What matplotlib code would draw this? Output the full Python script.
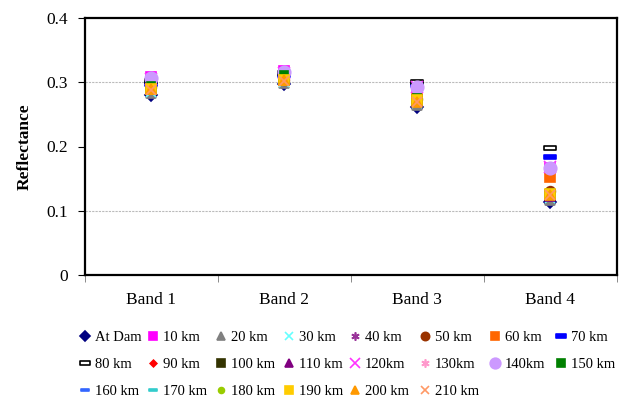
import matplotlib.pyplot as plt
from matplotlib.path import Path

plt.rcParams['font.family'] = ['Liberation Serif', 'DejaVu Serif']

bands = ['Band 1', 'Band 2', 'Band 3', 'Band 4']
yticks = [0, 0.1, 0.2, 0.3, 0.4]
ytick_labels = ['0', '0.1', '0.2', '0.3', '0.4']

names = ['At Dam', '10 km', '20 km', '30 km', '40 km', '50 km', '60 km', '70 km',
         '80 km', '90 km', '100 km', '110 km', '120km', '130km', '140km', '150 km',
         '160 km', '170 km', '180 km', '190 km', '200 km', '210 km']

# reflectance per station, one value per band
at_dam = [0.280, 0.297, 0.262, 0.113]
km10 = [0.308, 0.318, 0.294, 0.166]
km20 = [0.283, 0.299, 0.265, 0.117]
km30 = [0.285, 0.300, 0.268, 0.120]
km40 = [0.300, 0.310, 0.285, 0.160]
km50 = [0.293, 0.304, 0.274, 0.130]
km60 = [0.292, 0.305, 0.275, 0.152]
km70 = [0.298, 0.312, 0.296, 0.184]
km80 = [0.302, 0.314, 0.301, 0.197]
km90 = [0.291, 0.303, 0.273, 0.125]
km100 = [0.290, 0.304, 0.272, 0.124]
km110 = [0.289, 0.303, 0.271, 0.123]
km120 = [0.305, 0.315, 0.292, 0.168]
km130 = [0.304, 0.314, 0.291, 0.165]
km140 = [0.306, 0.316, 0.292, 0.167]
km150 = [0.294, 0.311, 0.276, 0.128]
km160 = [0.290, 0.305, 0.272, 0.126]
km170 = [0.286, 0.301, 0.268, 0.121]
km180 = [0.288, 0.303, 0.270, 0.124]
km190 = [0.290, 0.304, 0.272, 0.126]
km200 = [0.289, 0.303, 0.270, 0.125]
km210 = [0.288, 0.302, 0.270, 0.124]

series = [at_dam, km10, km20, km30, km40, km50, km60, km70, km80, km90, km100,
          km110, km120, km130, km140, km150, km160, km170, km180, km190, km200, km210]

bar = Path([(-1, -0.35), (1, -0.35), (1, 0.35), (-1, 0.35), (-1, -0.35)],
           [Path.MOVETO, Path.LINETO, Path.LINETO, Path.LINETO, Path.CLOSEPOLY])
asterisk = (6, 2, 0)

# (marker, face colour, edge colour, size)
styles = [
    ('D', '#000080', '#000080', 6),
    ('s', '#FF00FF', '#FF00FF', 7),
    ('^', '#808080', '#808080', 7),
    ('x', '#66FFFF', '#66FFFF', 7),
    (asterisk, '#993399', '#993399', 7),
    ('o', '#993300', '#993300', 7),
    ('s', '#FF6600', '#FF6600', 7),
    (bar, '#0000FF', '#0000FF', 8),
    (bar, 'white', 'black', 9),
    ('D', '#FF0000', '#FF0000', 4),
    ('s', '#333300', '#333300', 7),
    ('^', '#800080', '#800080', 7),
    ('x', '#FF33FF', '#FF33FF', 8),
    (asterisk, '#FF99CC', '#FF99CC', 7),
    ('o', '#CC99FF', '#CC99FF', 9),
    ('s', '#008000', '#008000', 6),
    (bar, '#3366FF', '#3366FF', 6),
    (bar, '#33CCCC', '#33CCCC', 6),
    ('o', '#99CC00', '#99CC00', 5),
    ('s', '#FFCC00', '#FFCC00', 7),
    ('^', '#FF9900', '#FF9900', 7),
    ('x', '#FF9966', '#FF9966', 7),
]

fig = plt.figure(figsize=(6.2, 4.0), dpi=100)
ax = fig.add_axes([0.137, 0.3125, 0.858, 0.6425])

x = [1, 2, 3, 4]
handles = []
for name, vals, (m, fc, ec, ms) in zip(names, series, styles):
    h, = ax.plot(x, vals, linestyle='none', marker=m, markersize=ms,
                 markerfacecolor=fc, markeredgecolor=ec, markeredgewidth=1.2,
                 label=name)
    handles.append(h)

ax.set_xlim(0.5, 4.5)
ax.set_ylim(0, 0.4)
ax.set_yticks(yticks)
ax.set_yticklabels(ytick_labels, fontsize=12.5)
ax.set_xticks(x)
ax.set_xticklabels(bands, fontsize=12.5)
ax.set_xticks([0.5, 1.5, 2.5, 3.5, 4.5], minor=True)
ax.tick_params(axis='x', which='major', length=0, pad=12)
ax.tick_params(axis='x', which='minor', length=5, direction='out', color='#777777')
ax.tick_params(axis='y', length=5, direction='out', pad=7)

for gy in [0.1, 0.3]:
    ax.axhline(gy, color='#bbbbbb', linestyle=(0, (2, 1)), linewidth=0.8, zorder=0)

for sp in ax.spines.values():
    sp.set_linewidth(1.6)
    sp.set_color('black')

ax.set_ylabel('Reflectance', fontsize=12.5, fontweight='bold', labelpad=10)

# legend: 8 columns filled row by row, each column its own block
col_x = [78, 146, 214, 282, 348, 418, 488, 554]
for c, left in enumerate(col_x):
    idx = [i for i in (c, c + 8, c + 16) if i < len(handles)]
    leg = fig.legend([handles[i] for i in idx], [names[i] for i in idx],
                     loc='upper left', bbox_to_anchor=(left / 620, 1 - 331 / 400),
                     frameon=False, fontsize=10.5, handlelength=1.0, handletextpad=0.15,
                     labelspacing=0.95, markerscale=0.85,
                     borderaxespad=0, borderpad=0)

fig.savefig('out.png', dpi=100)
